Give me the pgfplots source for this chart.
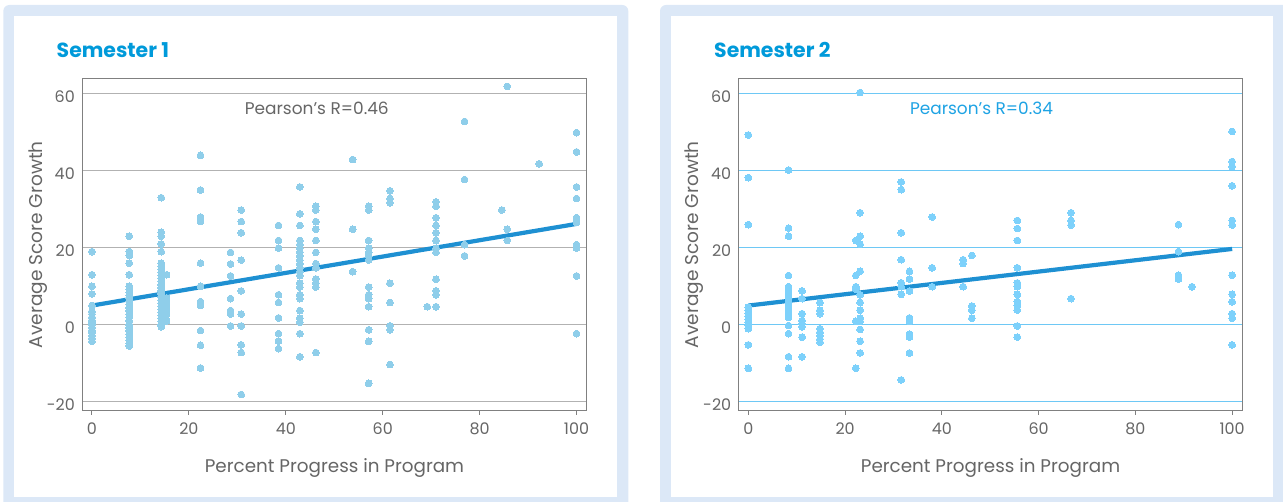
\documentclass[border=0pt]{standalone}
\usepackage{fontspec}
\setmainfont{Poppins}
\usepackage{pgfplots}
\pgfplotsset{compat=1.18}
\usepackage{pgfplotstable}

\definecolor{framebg}{RGB}{220,232,247}
\definecolor{titleblue}{RGB}{0,154,218}
\definecolor{labgray}{RGB}{102,102,102}
\definecolor{axgray}{RGB}{128,128,128}
\definecolor{gridgray}{RGB}{178,178,178}
\definecolor{gridblue}{RGB}{110,200,245}
\definecolor{dotA}{RGB}{143,206,234}
\definecolor{dotB}{RGB}{125,209,251}
\definecolor{fitline}{RGB}{30,144,210}
\definecolor{pearsonB}{RGB}{30,163,228}

% Semester 1 data
\pgfplotstableread{
x y
0 19
0 13
0 10
0 8
0 5
0 3.5
0 2.8
0 2
0 1.2
0 0.5
0 0
0 -0.7
0 -1.4
0 -2.1
0 -2.8
0 -3.5
0 -4.3
7.7 23
7.7 19
7.7 18
7.7 16
7.7 13
7.7 10
7.7 9.2
7.7 8.4
7.7 7.6
7.7 6.8
7.7 6
7.7 5.2
7.7 4.4
7.7 3.6
7.7 2.8
7.7 2
7.7 1
7.7 0
7.7 -0.8
7.7 -1.6
7.7 -2.4
7.7 -3.2
7.7 -4
7.7 -4.8
7.7 -5.5
14.3 33
14.3 24
14.3 23
14.3 21
14.3 19
14.3 16
14.3 15.2
14.3 14.4
14.3 13.6
14.3 12.8
14.3 12
14.3 11.2
14.3 10.4
14.3 9.6
14.3 8.8
14.3 8
14.3 7.2
14.3 6.4
14.3 5.6
14.3 4.8
14.3 4
14.3 3.2
14.3 2.4
14.3 1.6
14.3 0.8
14.3 0
14.3 -0.5
15.4 13
15.4 7
15.4 6
15.4 4.7
15.4 3.6
15.4 2.7
15.4 1
22.4 44
22.4 35
22.4 28
22.4 27.4
22.4 26.8
22.4 16
22.4 10
22.4 6
22.4 5
22.4 -1.5
22.4 -5.3
22.4 -11.2
28.6 18.8
28.6 15.8
28.6 12.7
28.6 6.8
28.6 3.7
28.6 2.8
28.6 -0.3
30.8 29.8
30.8 26.8
30.8 23.9
30.8 16.8
30.8 8.8
30.8 2.8
30.8 -0.3
30.8 -5.2
30.8 -7.2
30.8 -18.1
38.5 25.8
38.5 21.9
38.5 19.9
38.5 14.8
38.5 7.8
38.5 5.8
38.5 1.8
38.5 -2.3
38.5 -4.2
38.5 -6.2
42.9 35.8
42.9 28.8
42.9 25.8
42.9 21.9
42.9 20.8
42.9 19.9
42.9 18.9
42.9 17.9
42.9 16.8
42.9 15.8
42.9 14.8
42.9 13.8
42.9 12.8
42.9 10.8
42.9 9.8
42.9 7.8
42.9 6.8
42.9 3.7
42.9 1.7
42.9 0.7
42.9 -2.3
42.9 -8.3
46.2 30.8
46.2 29.8
46.2 26.8
46.2 24.8
46.2 21.9
46.2 18.8
46.2 15.9
46.2 14.8
46.2 11.9
46.2 10.8
46.2 9.8
46.2 -7.2
53.8 42.9
53.8 24.8
53.8 13.8
57.1 30.8
57.1 29.8
57.1 21.9
57.1 19.9
57.1 18.8
57.1 17.8
57.1 16.8
57.1 9.8
57.1 7.8
57.1 6.8
57.1 4.7
57.1 -1.3
57.1 -4.3
57.1 -15.2
61.5 34.8
61.5 32.8
61.5 31.7
61.5 10.8
61.5 5.8
61.5 -0.3
61.5 -1.3
61.5 -10.3
69.2 4.7
71 31.9
71 30.8
71 27.8
71 25.8
71 23.9
71 21.9
71 19.9
71 18.8
71 11.8
71 8.8
71 7.8
71 4.7
76.9 52.8
76.9 37.7
76.9 20.8
76.9 17.9
84.6 29.8
85.7 61.9
85.7 24.8
85.7 21.9
92.3 41.8
100 49.9
100 44.9
100 35.8
100 32.8
100 27.8
100 27.2
100 26.6
100 20.8
100 20.3
100 19.9
100 12.7
100 -2.3
}\semA

% Semester 2 data
\pgfplotstableread{
x y
0 49.3
0 38.2
0 26.0
0 4.6
0 3.8
0 3.0
0 2.2
0 1.4
0 0.6
0 -0.2
0 -1.0
0 -5.2
0 -11.3
8.3 40.2
8.3 25.1
8.3 23.0
8.3 12.8
8.3 9.9
8.3 9.1
8.3 8.3
8.3 7.5
8.3 6.7
8.3 5.9
8.3 5.1
8.3 4.3
8.3 3.5
8.3 2.7
8.3 1.9
8.3 -0.2
8.3 -2.3
8.3 -8.3
8.3 -11.3
11.1 8.8
11.1 6.8
11.1 2.9
11.1 1.1
11.1 0.3
11.1 -0.5
11.1 -3.2
11.1 -8.3
14.8 5.8
14.8 3.8
14.8 2.9
14.8 -1.0
14.8 -1.9
14.8 -2.8
14.8 -3.7
14.8 -4.5
22.2 21.9
22.2 12.8
22.2 9.9
22.2 9.3
22.2 0.9
22.2 -11.3
23.1 60.3
23.1 29.1
23.1 23.0
23.1 20.9
23.1 13.9
23.1 7.8
23.1 5.8
23.1 3.8
23.1 1.7
23.1 0.9
23.1 -1.2
23.1 -4.3
23.1 -7.3
31.6 37.1
31.6 35.1
31.6 23.9
31.6 16.9
31.6 10.9
31.6 9.9
31.6 7.9
31.6 -14.3
33.3 13.9
33.3 11.9
33.3 8.8
33.3 1.8
33.3 0.9
33.3 -2.4
33.3 -3.2
33.3 -7.3
38 28.0
38 14.8
38 9.9
44.4 16.9
44.4 15.9
44.4 9.9
46.2 18.0
46.2 4.9
46.2 3.8
46.2 1.7
55.6 27.1
55.6 25.0
55.6 21.9
55.6 14.8
55.6 10.9
55.6 9.9
55.6 7.9
55.6 6.0
55.6 5.0
55.6 3.8
55.6 -0.3
55.6 -3.2
66.7 29.1
66.7 27.1
66.7 25.9
66.7 6.8
88.9 26.0
88.9 19.0
88.9 12.9
88.9 11.9
91.7 9.9
100 50.2
100 42.4
100 41.1
100 36.1
100 27.1
100 25.9
100 12.9
100 7.9
100 6.0
100 2.9
100 1.7
100 -5.2
}\semB

\pgfplotsset{
  panel/.style={
    scale only axis,
    height=332bp,
    xmin=-2, xmax=102.1,
    ymin=-22.3, ymax=63.9,
    xtick={0,20,40,60,80,100},
    xticklabels={0,20,40,60,80,100},
    ytick={-20,0,20,40,60},
    yticklabels={-20,0,20,40,60},
    axis line style={draw=axgray, line width=1.1bp},
    xtick pos=bottom,
    ytick pos=left,
    tick align=outside,
    major tick length=4bp,
    xtick style={draw=axgray, line width=1bp},
    ytick style={draw=none},
    ymajorgrids,
    tick label style={font=\fontsize{16}{19}\selectfont, text=labgray},
    yticklabel style={yshift=-3bp},
    xticklabel style={yshift=-5bp},
    clip=false,
  }
}

\begin{document}
\begin{tikzpicture}
\useasboundingbox (0bp,0bp) rectangle (1283bp,502bp);
% panel frames
\fill[framebg, rounded corners=6bp] (3.3bp,-10bp) rectangle (628.3bp,497bp);
\fill[white] (14bp,4.7bp) rectangle (617.3bp,486bp);
\fill[framebg, rounded corners=6bp] (660bp,-10bp) rectangle (1295bp,497bp);
\fill[white] (670.7bp,4.7bp) rectangle (1273.3bp,486bp);

% titles
\node[anchor=base west, inner sep=0, text=titleblue, font=\fontsize{20.5}{24}\selectfont\bfseries] at (56.5bp,444.7bp) {Semester 1};
\node[anchor=base west, inner sep=0, text=titleblue, font=\fontsize{20.5}{24}\selectfont\bfseries] at (714bp,444.7bp) {Semester 2};

% axis labels
\node[anchor=base, inner sep=0, text=labgray, font=\fontsize{18.4}{21}\selectfont] at (334.5bp,29.7bp) {Percent Progress in Program};
\node[anchor=base, inner sep=0, text=labgray, font=\fontsize{18.4}{21}\selectfont] at (990.5bp,29.7bp) {Percent Progress in Program};
\node[anchor=base, rotate=90, inner sep=0, text=labgray, font=\fontsize{18.6}{21}\selectfont] at (42.3bp,257.3bp) {Average Score Growth};
\node[anchor=base, rotate=90, inner sep=0, text=labgray, font=\fontsize{18.6}{21}\selectfont] at (698.5bp,257.3bp) {Average Score Growth};

\begin{axis}[panel, at={(82.3bp,91.3bp)}, anchor=south west, width=504.4bp,
  grid style={draw=gridgray, line width=1.1bp}]
\addplot[dotA, only marks, mark=*, mark size=3.4pt, mark options={draw=dotA, fill=dotA, line width=0pt}] table[x=x, y=y] {\semA};
\addplot[fitline, line width=4.2bp] coordinates {(0,5) (100,26.2)};
\node[anchor=base, text=labgray, font=\fontsize{17}{20}\selectfont] at (axis cs:46.4,54.7) {Pearson’s R=0.46};
\end{axis}

\begin{axis}[panel, at={(738.7bp,91.3bp)}, anchor=south west, width=503.6bp,
  grid style={draw=gridblue, line width=1.1bp}]
\addplot[dotB, only marks, mark=*, mark size=3.4pt, mark options={draw=dotB, fill=dotB, line width=0pt}] table[x=x, y=y] {\semB};
\addplot[fitline, line width=4.2bp] coordinates {(0,5) (100,19.7)};
\node[anchor=base, text=pearsonB, font=\fontsize{17}{20}\selectfont] at (axis cs:48.2,54.7) {Pearson’s R=0.34};
\end{axis}
\end{tikzpicture}
\end{document}
